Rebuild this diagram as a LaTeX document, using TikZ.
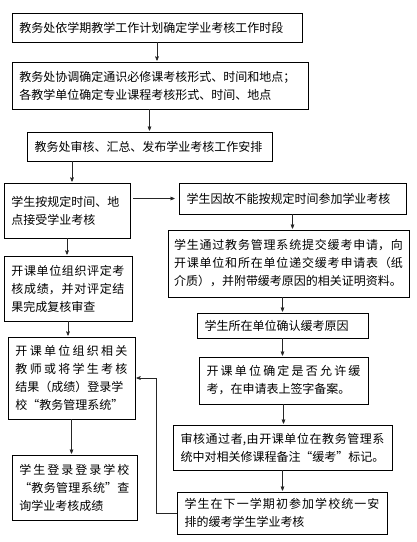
\documentclass[tikz,border=0pt]{standalone}
\usepackage{fontspec}
\setmainfont{Noto Sans CJK SC}
\usepackage{tikz}
\usetikzlibrary{arrows}
\XeTeXlinebreaklocale "zh"
\XeTeXlinebreakskip=0pt plus 4pt

\begin{document}
\begin{tikzpicture}[x=1pt,y=1pt,->,>=stealth',shorten >=1pt,
  line width=0.6pt,draw=black!85,
  main node/.style={rectangle,draw=black,line width=0.8pt,fill=white,align=justify,
    inner xsep=7.5pt,inner ysep=2pt,font=\fontsize{12}{18}\selectfont},
  sub node/.style={main node}]

  \useasboundingbox (0,0) rectangle (416,-542);

  % main column
  \node[main node,text width=275pt,minimum height=29pt] (1) at (157,-27.5)
    {教务处依学期教学工作计划确定学业考核工作时段};
  \node[main node,text width=281pt,minimum height=47pt] (2) [below of=1,node distance=58pt,xshift=3pt]
    {教务处协调确定通识必修课考核形式、时间和地点；\\各教学单位确定专业课程考核形式、时间、地点};
  \node[main node,text width=230pt,minimum height=29pt] (3) [below of=2,node distance=61pt,xshift=-10.5pt]
    {教务处审核、汇总、发布学业考核工作安排};
  \node[main node,text width=111pt,minimum height=55pt] (4) [below of=3,node distance=64pt,xshift=-82.5pt]
    {学生按规定时间、地\\点接受学业考核};
  \node[main node,text width=113pt,minimum height=65pt] (5) [below of=4,node distance=78pt,xshift=1pt]
    {开课单位组织评定考\linebreak 核成绩，并对评定结\linebreak 果完成复核审查};
  \node[main node,text width=112pt,minimum height=82pt] (6) [below of=5,node distance=89.5pt,xshift=3.5pt]
    {开课单位组织相关\linebreak 教师或将学生考核\linebreak 结果（成绩）登录学\\校“教务管理系统”};
  \node[main node,text width=110pt,minimum height=65pt] (7) [below of=6,node distance=109.5pt,xshift=3pt]
    {学生登录登录学校\linebreak “教务管理系统”查\linebreak 询学业考核成绩};

  % side column
  \node[sub node,text width=212pt,minimum height=31pt] (s1) [right of=4,node distance=225.5pt,yshift=12pt]
    {学生因故不能按规定时间参加学业考核};
  \node[sub node,inner xsep=6pt,text width=229pt,minimum height=67pt] (s2) [below of=s1,node distance=65pt,xshift=-4pt]
    {学生通过教务管理系统提交缓考申请，向\linebreak 开课单位和所在单位递交缓考申请表（纸\linebreak 介质），并附带缓考原因的相关证明资料。};
  \node[sub node,text width=156pt,minimum height=25pt] (s3) [below of=s2,node distance=62pt,xshift=-6pt]
    {学生所在单位确认缓考原因};
  \node[sub node,text width=154pt,minimum height=47pt] (s4) [below of=s3,node distance=55pt,xshift=1pt]
    {开课单位确定是否允许缓\linebreak 考，在申请表上签字备案。};
  \node[sub node,text width=204pt,minimum height=45pt] (s5) [below of=s4,node distance=67pt,xshift=-1pt]
    {审核通过者,由开课单位在教务管理系\linebreak 统中对相关修课程备注“缓考”标记。};
  \node[sub node,text width=195pt,minimum height=42pt] (s6) [below of=s5,node distance=65.5pt,xshift=-0.5pt]
    {学生在下一学期初参加学校统一安\linebreak 排的缓考学生学业考核};

  \draw (1.south) -- (1.south |- 2.north);
  \draw (3.north |- 2.south) -- (3.north);
  \draw ([xshift=5pt]4.north |- 3.south) -- ([xshift=5pt]4.north);
  \draw (4.south) -- (4.south |- 5.north);
  \draw (5.south) -- (5.south |- 6.north);
  \draw (6.south) -- (6.south |- 7.north);

  \draw[shorten <=3pt,shorten >=4pt] (4.east |- s1.west) -- (s1.west);
  \draw (s1.south) -- (s1.south |- s2.north);
  \draw (s3.north |- s2.south) -- (s3.north);
  \draw (s3.south) -- (s3.south |- s4.north);
  \draw (s4.south) -- (s4.south |- s5.north);
  \draw (s5.south) -- (s5.south |- s6.north);
  %\draw (s6.west) -- (6.east);
  \draw (s6.west) -- ++(-20pt,0) |- (6.east);

\end{tikzpicture}
\end{document}
